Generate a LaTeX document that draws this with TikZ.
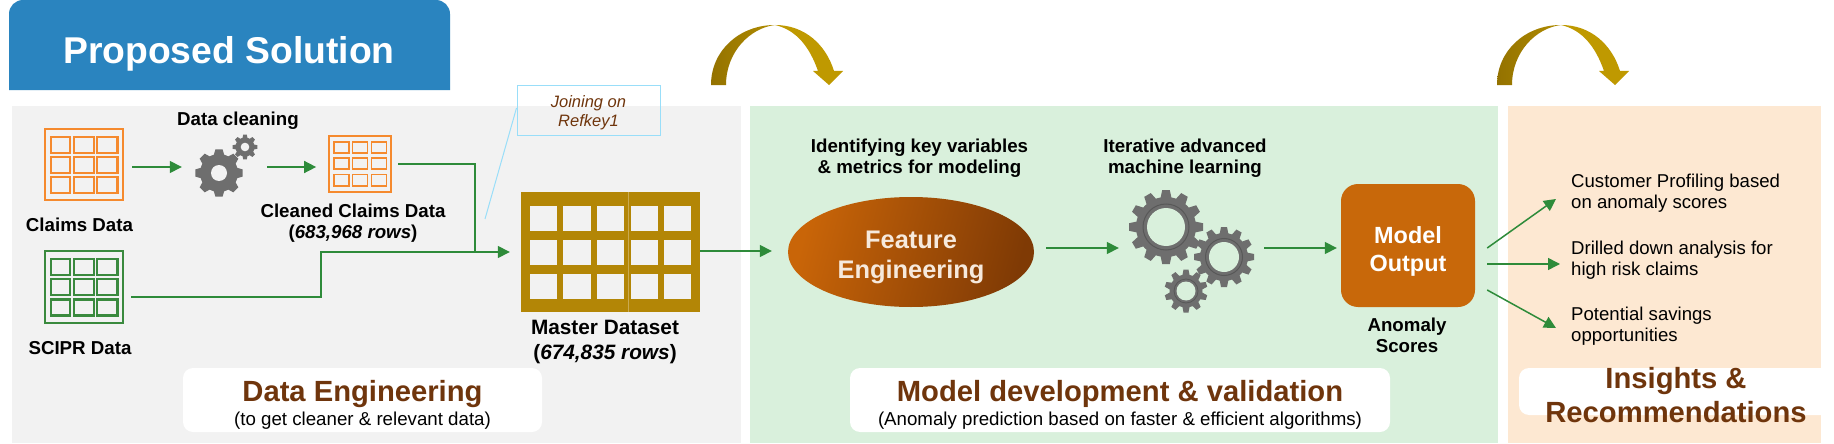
\documentclass[tikz,border=0pt]{standalone}
\usepackage{fontspec}
\setmainfont{Liberation Sans}
\usetikzlibrary{arrows.meta,shapes.geometric,calc}
\definecolor{flowgreen}{HTML}{2E8B3A}
\definecolor{brownt}{HTML}{6F350C}
\definecolor{paneltone}{HTML}{F2F2F2}
\definecolor{greentone}{HTML}{D9F0DC}
\definecolor{peachtone}{HTML}{FDE8D2}
\definecolor{titleblue}{HTML}{2A84BF}
\definecolor{orangeline}{HTML}{F58A2E}
\definecolor{greenline}{HTML}{3A8A3E}
\definecolor{mastergold}{HTML}{B38606}
\definecolor{cogc}{HTML}{6E6E6E}
\definecolor{swoopdark}{HTML}{947200}
\definecolor{swoopmid}{HTML}{B08C00}
\definecolor{swooplight}{HTML}{BF9900}
\definecolor{ellstart}{HTML}{C96508}
\definecolor{ellend}{HTML}{7F3A05}
\definecolor{fetone}{HTML}{F6E9DC}
\definecolor{outtone}{HTML}{C8680A}
\tikzset{
  flow/.style={draw=flowgreen,line width=1.5pt,-{Triangle[length=12pt,width=12pt]}},
  flowline/.style={draw=flowgreen,line width=1.5pt},
  lab/.style={font=\fontsize{18.7}{21}\selectfont\bfseries,align=center,inner sep=0pt,text=black},
  plain/.style={font=\fontsize{18.6}{21}\selectfont,align=left,inner sep=0pt,anchor=west,text=black},
  headb/.style={font=\fontsize{29.2}{34}\selectfont\bfseries,text=brownt,align=center,inner sep=0pt},
  subt/.style={font=\fontsize{18.7}{21}\selectfont,text=black,align=center,inner sep=0pt},
  whitecap/.style={fill=white,rounded corners=10pt},
  tablebox/.style={draw=#1,line width=2.2pt,rectangle,inner sep=0pt},
  cellline/.style={draw=#1,line width=2.2pt},
}
\newcommand{\mycog}[7]{%
  \pgfmathsetmacro{\halfbase}{0.70*3.14159*#4/#6}
  \pgfmathsetmacro{\halftip}{0.48*3.14159*#4/#6}
  \fill[cogc] (#1,#2) circle[radius=#4];
  \foreach \i in {1,...,#6}{
    \fill[cogc,shift={(#1,#2)},rotate=\i*360/#6] (-\halfbase,-#4+1) -- (-\halftip,-#3) -- (\halftip,-#3) -- (\halfbase,-#4+1) -- cycle;
  }
  \fill[#7] (#1,#2) circle[radius=#5];
}
\newcommand{\swoosh}[1]{%
  \begin{scope}[xshift=#1pt]
    \shade[left color=swoopdark,right color=swoopmid] (711,85) .. controls (711,50) and (740,25) .. (775,25) .. controls (750,28) and (726,52) .. (726,85) -- cycle;
    \fill[color=swooplight] (775,25) .. controls (805,25) and (826,45) .. (834,71) -- (843,71) -- (829,85) -- (813,71) -- (818,71) .. controls (810,48) and (797,30) .. (775,25) -- cycle;
  \end{scope}
}
\begin{document}
\begin{tikzpicture}[x=1pt,y=-1pt]
\useasboundingbox (0,0) rectangle (1834,444);
\fill[white] (0,0) rectangle (1834,444);
% title
\fill[titleblue] [sharp corners] (9,90) [rounded corners=14pt] -- (9,0) -- (450,0) [sharp corners] -- (450,90) -- cycle;
\node[font=\fontsize{37.3}{40}\selectfont\bfseries,text=white,inner sep=0pt] (title) at (229,54) {Proposed Solution};
% panels
\fill[paneltone] (12,106) rectangle (741,443);
\fill[greentone] (750,106) rectangle (1498,443);
\fill[peachtone] (1508,106) rectangle (1821,443);
% white caps
\fill[whitecap] (183,368) rectangle (542,432);
\fill[whitecap] (850,368) rectangle (1390,432);
\fill[white] [sharp corners] (1821,368) [rounded corners=10pt] -- (1519,368) -- (1519,415) [sharp corners] -- (1821,415) -- cycle;
% swooshes
\swoosh{0}
\swoosh{786}
% claims table
\node[tablebox=orangeline,minimum width=78.5pt,minimum height=71.5pt] (claims) at (84,164.5) {};
\foreach \x/\xb in {50.7/70.2,73.7/93.7,97.2/117.5}{\foreach \y/\yb in {136.7/152.7,156.7/172.7,177.2/193}{
  \draw[cellline=orangeline] (\x,\y) rectangle (\xb,\yb);}}
% scipr table
\node[tablebox=greenline,minimum width=78.5pt,minimum height=71.5pt] (scipr) at (84,287) {};
\foreach \x/\xb in {50.7/70.2,73.7/93.7,97.2/117.5}{\foreach \y/\yb in {259/275,279/295,299.5/315.5}{
  \draw[cellline=greenline] (\x,\y) rectangle (\xb,\yb);}}
% cleaned table
\node[tablebox=orangeline,minimum width=62.5pt,minimum height=56.5pt] (cleaned) at (360,164) {};
\foreach \x/\xb in {334/349,352.5/367.5,371.5/386.5}{\foreach \y/\yb in {142/153,158/169,174.5/186}{
  \draw[cellline=orangeline,line width=1.8pt] (\x,\y) rectangle (\xb,\yb);}}
% master table
\node[fill=mastergold,rectangle,inner sep=0pt,minimum width=179pt,minimum height=120pt] (master) at (610.5,252) {};
\foreach \x/\xb in {530/557.3,563.3/590.7,596.7/624,631/658.3,664/691.3}{\foreach \y/\yb in {206/230.7,240/265,274.3/299}{
  \fill[paneltone] (\x,\y) rectangle (\xb,\yb);}}
\draw[color=mastergold!70!white,line width=0.5pt] (628.3,192) -- (628.3,312);
% gears
\node[inner sep=0pt,minimum size=48pt] (cogA) at (219,173) {};
\mycog{219}{173}{23.7}{19}{8}{8}{paneltone}
\mycog{245}{147}{12.3}{9.5}{4.3}{8}{paneltone}
\node[inner sep=0pt,minimum size=74pt] (cogB) at (1166,227) {};
\mycog{1166}{227}{37}{30}{19}{12}{greentone}
\draw[cogc!80!black,line width=1pt] (1166,227) circle[radius=23];
\mycog{1224}{257}{30}{24}{15}{12}{greentone}
\draw[cogc!80!black,line width=1pt] (1224,257) circle[radius=18.5];
\mycog{1186}{291}{21.5}{16.5}{9.5}{10}{greentone}
\draw[cogc!80!black,line width=0.8pt] (1186,291) circle[radius=12];
% feature ellipse
\node[ellipse,inner sep=0pt,minimum width=246pt,minimum height=110pt,
  left color=ellstart,right color=ellend,shading angle=75] (fe) at (911,252) {};
\node[font=\fontsize{25.4}{30}\selectfont\bfseries,text=fetone,align=center,inner sep=0pt] (fetext) at (911,257) {Feature\\Engineering};
% model output
\node[rectangle,rounded corners=17pt,fill=outtone,inner sep=0pt,minimum width=134pt,minimum height=123pt] (output) at (1408,245.5) {};
\node[font=\fontsize{23.4}{28}\selectfont\bfseries,text=white,align=center,inner sep=0pt] (outtext) at (1408,251) {Model\\Output};
% labels
\node[lab] (l1) at (238,121) {Data cleaning};
\node[lab] (l2) at (79.5,224.5) {Claims Data};
\node[lab] (l3) at (80,348.5) {SCIPR Data};
\node[lab] (l4) at (353,223) {Cleaned Claims Data\\(\textit{683,968 rows})};
\node[lab,font=\fontsize{20.8}{25}\selectfont\bfseries] (l5) at (605,342) {Master Dataset\\(\textit{674,835 rows})};
\node[lab] (l6) at (919.5,158) {Identifying key variables\\\& metrics for modeling};
\node[lab] (l7) at (1185,158) {Iterative advanced\\machine learning};
\node[lab] (l8) at (1407,335.5) {Anomaly\\Scores};
% insights
\node[plain] (i1) at (1571,193.5) {Customer Profiling based\\on anomaly scores};
\node[plain] (i2) at (1571,260.5) {Drilled down analysis for\\high risk claims};
\node[plain] (i3) at (1571,326.5) {Potential savings\\opportunities};
% captions
\node[headb] (h1) at (362.5,394) {Data Engineering};
\node[subt] (s1) at (362.5,421) {(to get cleaner \& relevant data)};
\node[headb] (h2) at (1120,394) {Model development \& validation};
\node[subt] (s2) at (1120,421) {(Anomaly prediction based on faster \& efficient algorithms)};
\node[headb] (h3) at (1676,395) {Insights \&\\Recommendations};
% callout
\node[draw=cyan!40!white,line width=1pt,rectangle,minimum width=143pt,minimum height=50pt,inner sep=0pt] (call) at (588.5,110) {};
\node[font=\fontsize{16.5}{19}\selectfont\itshape,text=brownt,align=center,inner sep=0pt] (calltext) at (call.center) [yshift=-3pt] {Joining on\\Refkey1};
\coordinate (calltail) at (485,219);
\draw[cyan!40!white,line width=1pt] ([yshift=2pt]call.west) -- (calltail);
% connectors
\coordinate (join) at (475,252);
\draw[flow] ([xshift=8pt,yshift=-2.5pt]claims.east) -- ([xshift=-13pt,yshift=6pt]cogA.west);
\draw[flow] ([xshift=24pt,yshift=6pt]cogA.east) -- ([xshift=-11.5pt,yshift=-3pt]cleaned.west);
\draw[flowline] ([xshift=6pt]cleaned.east) -| (join);
\draw[flow] ([xshift=7pt,yshift=-10pt]scipr.east) -| (321,252) -- ([xshift=-11pt]master.west);
\draw[flow] ([yshift=1pt]master.east) -- ([xshift=-16pt,yshift=1pt]fe.west);
\draw[flow] ([xshift=12pt,yshift=4pt]fe.east) -- ([xshift=-10pt,yshift=-21pt]cogB.west);
\draw[flow] ([xshift=61pt,yshift=-21pt]cogB.east) -- ([xshift=-4pt,yshift=-2.5pt]output.west);
\draw[flow] ([xshift=12pt,yshift=-2.5pt]output.east) -- ([xshift=-15pt,yshift=-5.5pt]i1.west);
\draw[flow] ([xshift=12pt,yshift=-18.5pt]output.east) -- ([xshift=-11pt,yshift=-3.5pt]i2.west);
\draw[flow] ([xshift=12pt,yshift=-44.5pt]output.east) -- ([xshift=-15pt,yshift=-1.5pt]i3.west);
\end{tikzpicture}
\end{document}
